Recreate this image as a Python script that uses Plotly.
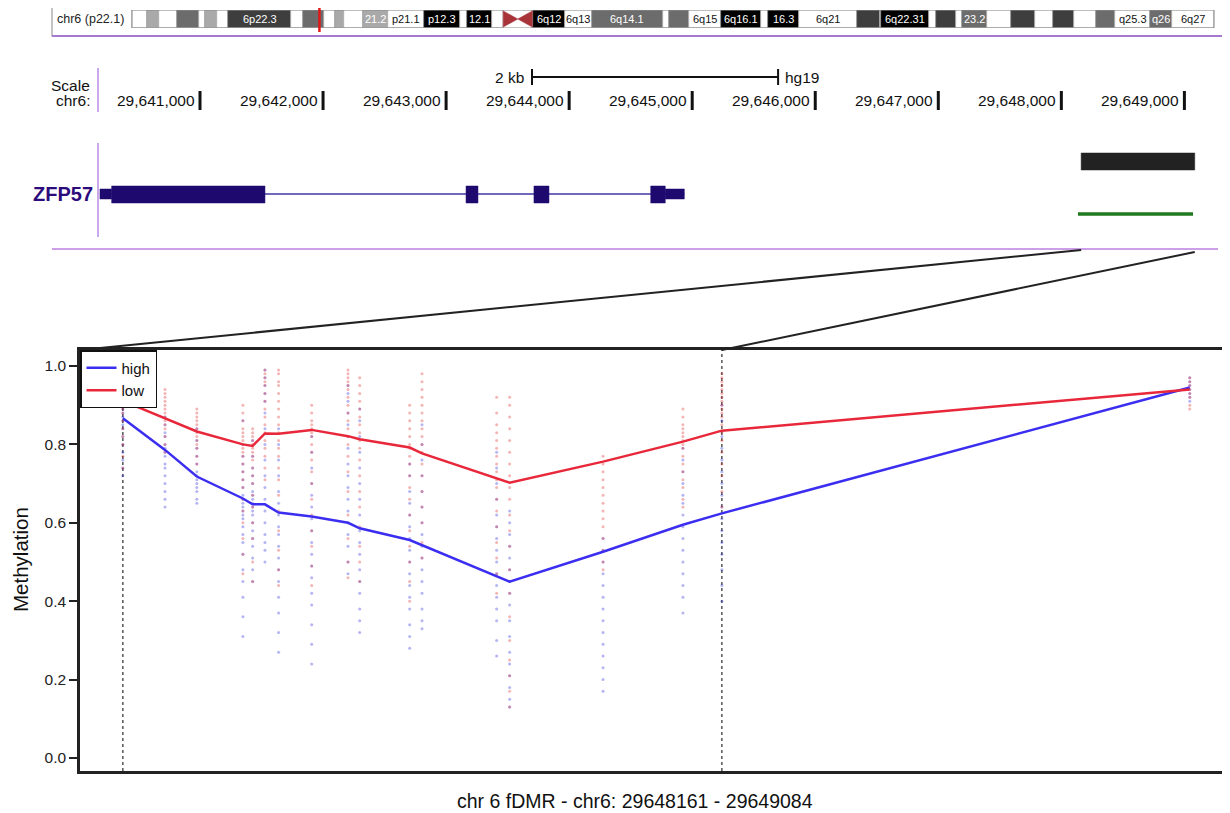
import plotly.graph_objects as go

# page body has an 8px margin: the figure occupies pixels 8..1230 x 8..813
OFF = 8
W, H = 1230 - OFF, 813 - OFF

# ---------------- data ----------------
# chr6 ideogram bands (Mb)
band_start = [0, 2.3, 4.2, 7.1, 10.6, 11.6, 13.4, 15.2, 25.2, 27.0, 30.4, 32.1, 33.5, 36.6, 40.5,
              46.2, 51.8, 53.0, 57.0, 58.7, 61.0, 63.3, 63.4, 68.5, 72.7, 83.9, 84.9, 88.0, 93.1,
              99.5, 100.6, 105.5, 114.6, 118.3, 118.5, 126.1, 127.1, 130.3, 131.2, 135.2, 139.0,
              142.8, 145.6, 149.0, 152.5, 155.5, 161.0, 164.5]
band_end = [2.3, 4.2, 7.1, 10.6, 11.6, 13.4, 15.2, 25.2, 27.0, 30.4, 32.1, 33.5, 36.6, 40.5, 46.2,
            51.8, 53.0, 57.0, 58.7, 61.0, 63.3, 63.4, 68.5, 72.7, 83.9, 84.9, 88.0, 93.1, 99.5,
            100.6, 105.5, 114.6, 118.3, 118.5, 126.1, 127.1, 130.3, 131.2, 135.2, 139.0, 142.8,
            145.6, 149.0, 152.5, 155.5, 161.0, 164.5, 171.1]
band_stain = ["gneg", "gpos25", "gneg", "gpos50", "gneg", "gpos25", "gneg", "gpos75", "gneg", "gpos50",
              "gneg", "gpos25", "gneg", "gpos25", "gneg", "gpos100", "gneg", "gpos100", "gneg", "acen",
              "acen", "gneg", "gpos100", "gneg", "gpos50", "gneg", "gpos50", "gneg", "gpos100", "gneg",
              "gpos100", "gneg", "gpos75", "gneg", "gpos100", "gneg", "gpos75", "gneg", "gpos50", "gneg",
              "gpos75", "gneg", "gpos75", "gneg", "gpos50", "gneg", "gpos50", "gneg"]
band_label = ["", "", "", "", "", "", "", "6p22.3", "", "", "", "", "", "21.2", "p21.1",
              "p12.3", "", "12.1", "", "", "", "", "6q12", "6q13", "6q14.1", "", "", "6q15", "6q16.1",
              "", "16.3", "6q21", "", "", "6q22.31", "", "", "", "23.2", "", "", "", "", "", "",
              "q25.3", "q26", "6q27"]
chrom_len = 171.1
highlight_mb = 29.64

ruler_ticks = [29641000, 29642000, 29643000, 29644000, 29645000, 29646000, 29647000, 29648000, 29649000]
scale_bar = [29643698, 29645698]

gene_name = "ZFP57"
gene_span = [29640187, 29644936]
cds_start = [29640282, 29643162, 29643714, 29644663]
cds_end = [29641528, 29643259, 29643836, 29644781]
utr_start = [29640187, 29644781]
utr_end = [29640282, 29644936]

fdmr_start, fdmr_end = 29648161, 29649084
green_start, green_end = 29648135, 29649070

cpg_pos = [29648161, 29648226, 29648275, 29648346, 29648361, 29648380, 29648401, 29648452, 29648508,
           29648526, 29648603, 29648622, 29648737, 29648757, 29648901, 29649024, 29649084, 29649805]
high_mean = [0.867, 0.786, 0.718, 0.662, 0.647, 0.647, 0.626, 0.616, 0.600, 0.586, 0.556, 0.543,
             0.465, 0.450, 0.526, 0.595, 0.624, 0.945]
low_mean = [0.911, 0.867, 0.833, 0.800, 0.796, 0.828, 0.827, 0.837, 0.821, 0.813, 0.792, 0.777,
            0.712, 0.702, 0.756, 0.807, 0.835, 0.940]

high_samples = [
    [0.98, 0.96, 0.94, 0.92, 0.90, 0.89, 0.88, 0.87, 0.86, 0.85, 0.84, 0.82, 0.80, 0.78, 0.76, 0.74, 0.72],
    [0.87, 0.85, 0.83, 0.82, 0.80, 0.79, 0.78, 0.77, 0.75, 0.74, 0.72, 0.70, 0.68, 0.66, 0.64],
    [0.84, 0.81, 0.79, 0.77, 0.75, 0.73, 0.72, 0.71, 0.70, 0.69, 0.68, 0.66, 0.65],
    [0.86, 0.80, 0.77, 0.75, 0.73, 0.71, 0.69, 0.67, 0.66, 0.65, 0.64, 0.63, 0.62, 0.61, 0.59, 0.57, 0.55,
     0.52, 0.48, 0.45, 0.41, 0.36, 0.31],
    [0.81, 0.77, 0.74, 0.72, 0.70, 0.68, 0.67, 0.66, 0.65, 0.64, 0.63, 0.62, 0.60, 0.58, 0.56, 0.54, 0.51,
     0.48, 0.45],
    [0.99, 0.97, 0.95, 0.93, 0.91, 0.88, 0.84, 0.80, 0.76, 0.72, 0.69, 0.66, 0.63, 0.60, 0.57, 0.55, 0.53, 0.50],
    [0.84, 0.80, 0.76, 0.72, 0.68, 0.65, 0.62, 0.59, 0.57, 0.54, 0.51, 0.48, 0.45, 0.41, 0.37, 0.32, 0.27],
    [0.82, 0.78, 0.74, 0.70, 0.67, 0.64, 0.61, 0.58, 0.55, 0.52, 0.49, 0.46, 0.42, 0.39, 0.34, 0.29, 0.24],
    [0.95, 0.93, 0.91, 0.88, 0.85, 0.82, 0.79, 0.75, 0.72, 0.69, 0.66, 0.63, 0.60, 0.57, 0.54, 0.50, 0.47],
    [0.89, 0.86, 0.82, 0.78, 0.74, 0.70, 0.66, 0.62, 0.58, 0.55, 0.52, 0.48, 0.45, 0.42, 0.38, 0.35, 0.32],
    [0.75, 0.72, 0.68, 0.65, 0.62, 0.59, 0.56, 0.53, 0.50, 0.47, 0.44, 0.41, 0.38, 0.34, 0.31, 0.28],
    [0.85, 0.80, 0.76, 0.72, 0.68, 0.64, 0.60, 0.57, 0.54, 0.51, 0.48, 0.45, 0.42, 0.38, 0.35, 0.33],
    [0.78, 0.74, 0.70, 0.66, 0.62, 0.59, 0.56, 0.53, 0.50, 0.47, 0.44, 0.41, 0.38, 0.35, 0.30, 0.26],
    [0.63, 0.60, 0.57, 0.54, 0.51, 0.48, 0.45, 0.42, 0.39, 0.35, 0.31, 0.27, 0.24, 0.21, 0.18, 0.15, 0.13],
    [0.56, 0.53, 0.50, 0.47, 0.44, 0.41, 0.38, 0.35, 0.32, 0.29, 0.26, 0.23, 0.20, 0.17],
    [0.79, 0.76, 0.73, 0.70, 0.67, 0.65, 0.62, 0.59, 0.56, 0.53, 0.50, 0.47, 0.44, 0.41, 0.37],
    [0.90, 0.86, 0.82, 0.79, 0.76, 0.73, 0.70, 0.67, 0.64, 0.61, 0.58, 0.55, 0.52, 0.48, 0.44, 0.40],
    [0.97, 0.96, 0.95, 0.94, 0.93, 0.92, 0.91],
]
low_samples = [
    [1.00, 0.99, 0.97, 0.96, 0.95, 0.94, 0.93, 0.92, 0.91, 0.90, 0.89, 0.88, 0.86, 0.84, 0.82, 0.80, 0.77, 0.74],
    [0.94, 0.93, 0.92, 0.91, 0.90, 0.89, 0.88, 0.87, 0.86, 0.85, 0.84, 0.82, 0.80, 0.78],
    [0.89, 0.88, 0.87, 0.86, 0.85, 0.84, 0.83, 0.82, 0.81, 0.80, 0.79, 0.77, 0.75],
    [0.90, 0.88, 0.86, 0.84, 0.83, 0.82, 0.81, 0.80, 0.79, 0.78, 0.77, 0.75, 0.73, 0.71, 0.69, 0.66, 0.63,
     0.60, 0.56, 0.52, 0.47],
    [0.84, 0.83, 0.82, 0.81, 0.80, 0.79, 0.78, 0.77, 0.76, 0.74, 0.72, 0.70, 0.67, 0.64, 0.60, 0.56, 0.50, 0.45],
    [0.99, 0.98, 0.97, 0.96, 0.95, 0.93, 0.91, 0.89, 0.87, 0.85, 0.83, 0.81, 0.79, 0.77, 0.74, 0.71],
    [0.99, 0.98, 0.96, 0.95, 0.93, 0.91, 0.89, 0.87, 0.85, 0.83, 0.81, 0.79, 0.77, 0.74, 0.71, 0.67, 0.63,
     0.58, 0.53, 0.48, 0.44],
    [0.90, 0.88, 0.86, 0.85, 0.84, 0.83, 0.82, 0.80, 0.78, 0.76, 0.73, 0.70, 0.66, 0.62, 0.58, 0.54, 0.49, 0.44],
    [0.99, 0.98, 0.97, 0.96, 0.95, 0.94, 0.92, 0.90, 0.88, 0.86, 0.84, 0.82, 0.80, 0.77, 0.73, 0.68, 0.62,
     0.56, 0.50, 0.46],
    [0.97, 0.95, 0.93, 0.91, 0.89, 0.87, 0.85, 0.83, 0.81, 0.79, 0.76, 0.72, 0.68, 0.64, 0.59, 0.54, 0.50, 0.45],
    [0.90, 0.88, 0.86, 0.84, 0.82, 0.80, 0.79, 0.77, 0.75, 0.72, 0.69, 0.66, 0.62, 0.58, 0.54, 0.50, 0.45, 0.40],
    [0.98, 0.96, 0.94, 0.92, 0.90, 0.88, 0.86, 0.84, 0.82, 0.80, 0.78, 0.75, 0.72, 0.68, 0.64, 0.60, 0.55, 0.51],
    [0.92, 0.88, 0.85, 0.83, 0.81, 0.79, 0.77, 0.75, 0.73, 0.71, 0.69, 0.66, 0.63, 0.59, 0.55, 0.51, 0.47, 0.42],
    [0.92, 0.90, 0.87, 0.84, 0.81, 0.78, 0.75, 0.72, 0.69, 0.66, 0.62, 0.58, 0.54, 0.48, 0.42, 0.36, 0.30,
     0.25, 0.21, 0.17, 0.13],
    [0.77, 0.75, 0.73, 0.71, 0.69, 0.67, 0.65, 0.63, 0.61, 0.59, 0.56, 0.53, 0.50, 0.48],
    [0.89, 0.87, 0.85, 0.84, 0.83, 0.82, 0.81, 0.80, 0.79, 0.77, 0.75, 0.73, 0.71, 0.69, 0.66, 0.64],
    [0.98, 0.97, 0.96, 0.95, 0.94, 0.93, 0.92, 0.91, 0.90, 0.89, 0.88, 0.87, 0.85, 0.83, 0.81, 0.78, 0.75,
     0.72, 0.68, 0.64],
    [0.97, 0.96, 0.95, 0.94, 0.93, 0.92, 0.90, 0.89],
]

x_title = "chr 6 fDMR - chr6: 29648161 - 29649084"
y_title = "Methylation"

# ---------------- layout helpers ----------------
FONT = "Liberation Sans, Arial, sans-serif"
NARROW = "Liberation Sans Narrow, Liberation Sans, Arial, sans-serif"
BROWSER_FS = 15.5


def px(x):
    return (x - OFF) / W


def py(y):
    return 1 - (y - OFF) / H


# browser axis (x2): genomic coordinates spanning the full width
X2 = [29639439.7, 29649370.6]
# ideogram axis (x3): Mb
X3 = [-19.61, 173.63]
# lower plot axis (x)
X1 = [29648095, 29649867]
D1 = px(80)


def g2paper(g):
    return (g - X2[0]) / (X2[1] - X2[0])


def g1paper(g):
    return D1 + (g - X1[0]) / (X1[1] - X1[0]) * (1 - D1)


fig = go.Figure()

# ---------------- lower plot ----------------
dot_x_high, dot_y_high, dot_x_low, dot_y_low = [], [], [], []
for pos, hs, ls in zip(cpg_pos, high_samples, low_samples):
    dot_x_high += [pos] * len(hs)
    dot_y_high += hs
    dot_x_low += [pos] * len(ls)
    dot_y_low += ls

fig.add_trace(go.Scatter(x=dot_x_high, y=dot_y_high, mode="markers", showlegend=False,
                         marker=dict(size=3, color="#2a2ae0", opacity=0.35), hoverinfo="skip"))
fig.add_trace(go.Scatter(x=dot_x_low, y=dot_y_low, mode="markers", showlegend=False,
                         marker=dict(size=3, color="#e02a2a", opacity=0.35), hoverinfo="skip"))
fig.add_trace(go.Scatter(x=cpg_pos, y=high_mean, mode="lines", name="high",
                         line=dict(color="#3b2ef0", width=2.5)))
fig.add_trace(go.Scatter(x=cpg_pos, y=low_mean, mode="lines", name="low",
                         line=dict(color="#e8283a", width=2.5)))

# helper trace to create the browser axis
fig.add_trace(go.Scatter(x=gene_span, y=[0.5, 0.5], xaxis="x2", yaxis="y2", mode="markers",
                         marker=dict(opacity=0), showlegend=False, hoverinfo="skip"))

# ideogram bands as a horizontal bar trace
stain_color = {"gneg": "#ffffff", "gpos25": "#a9a9a9", "gpos50": "#6c6c6c",
               "gpos75": "#3e3e3e", "gpos100": "#000000"}
nb_idx = [i for i, s in enumerate(band_stain) if s != "acen"]
fig.add_trace(go.Bar(
    x=[band_end[i] - band_start[i] for i in nb_idx], base=[band_start[i] for i in nb_idx],
    y=[0] * len(nb_idx), orientation="h", width=1, xaxis="x3", yaxis="y3",
    marker=dict(color=[stain_color[band_stain[i]] for i in nb_idx], line=dict(color="#9a9a9a", width=0.6)),
    showlegend=False, hoverinfo="skip"))

shapes = []
annotations = []

# outer ideogram frame
shapes.append(dict(type="rect", xref="paper", yref="paper", x0=px(52), x1=px(1227), y0=py(36), y1=py(2),
                   line=dict(color="#9c9c9c", width=1.2), fillcolor="rgba(0,0,0,0)", layer="below"))
shapes.append(dict(type="line", xref="paper", yref="paper", x0=px(52), x1=px(1227), y0=py(36), y1=py(36),
                   line=dict(color="#a678cf", width=2)))
annotations.append(dict(xref="paper", yref="paper", x=px(55), y=py(19), text="chr6 (p22.1)", showarrow=False,
                        xanchor="left", yanchor="middle", font=dict(family=NARROW, size=12.5, color="#222")))
# ideogram outline
shapes.append(dict(type="rect", xref="x3", yref="y3", x0=0, x1=chrom_len, y0=-0.5, y1=0.5,
                   line=dict(color="#8a8a8a", width=1), fillcolor="rgba(0,0,0,0)"))
# centromere
acen_idx = [i for i, s in enumerate(band_stain) if s == "acen"]
s0, e0 = band_start[acen_idx[0]], band_end[acen_idx[0]]
s1, e1 = band_start[acen_idx[1]], band_end[acen_idx[1]]
shapes.append(dict(type="path", xref="x3", yref="y3", path=f"M {s0},-0.45 L {s0},0.45 L {e0},0 Z",
                   fillcolor="#a8343a", line=dict(color="#a8343a", width=0.5)))
shapes.append(dict(type="path", xref="x3", yref="y3", path=f"M {s1},0 L {e1},0.45 L {e1},-0.45 Z",
                   fillcolor="#a8343a", line=dict(color="#a8343a", width=0.5)))
for i in range(len(band_start)):
    if band_label[i]:
        col = "#111111" if band_stain[i] == "gneg" else "#ffffff"
        annotations.append(dict(xref="x3", yref="y3", x=(band_start[i] + band_end[i]) / 2, y=0,
                                text=band_label[i], showarrow=False, xanchor="center", yanchor="middle",
                                font=dict(family=NARROW, size=11, color=col)))
# highlighted position
shapes.append(dict(type="line", xref="x3", yref="paper", x0=highlight_mb, x1=highlight_mb,
                   y0=py(32), y1=py(6), line=dict(color="#e01818", width=2.5)))

# ---------------- ruler ----------------
shapes.append(dict(type="line", xref="paper", yref="paper", x0=px(98), x1=px(98), y0=py(112), y1=py(68),
                   line=dict(color="#c9a8ec", width=2)))
annotations.append(dict(xref="paper", yref="paper", x=px(92), y=py(85), text="Scale", showarrow=False,
                        xanchor="right", yanchor="middle", font=dict(family=FONT, size=BROWSER_FS, color="#111")))
annotations.append(dict(xref="paper", yref="paper", x=px(92), y=py(101), text="chr6:", showarrow=False,
                        xanchor="right", yanchor="middle", font=dict(family=FONT, size=BROWSER_FS, color="#111")))
for t in ruler_ticks:
    shapes.append(dict(type="line", xref="x2", yref="paper", x0=t, x1=t, y0=py(110), y1=py(91),
                       line=dict(color="#111", width=3)))
    annotations.append(dict(xref="x2", yref="paper", x=t, y=py(101), text=f"{t:,}", showarrow=False,
                            xanchor="right", yanchor="middle", xshift=-3,
                            font=dict(family=FONT, size=BROWSER_FS, color="#111")))
shapes.append(dict(type="line", xref="x2", yref="paper", x0=scale_bar[0], x1=scale_bar[1], y0=py(77), y1=py(77),
                   line=dict(color="#111", width=2)))
for b in scale_bar:
    shapes.append(dict(type="line", xref="x2", yref="paper", x0=b, x1=b, y0=py(85), y1=py(69),
                       line=dict(color="#111", width=2)))
annotations.append(dict(xref="x2", yref="paper", x=scale_bar[0], y=py(77),
                        text=f"{(scale_bar[1] - scale_bar[0]) // 1000} kb", showarrow=False,
                        xanchor="right", yanchor="middle", xshift=-6,
                        font=dict(family=FONT, size=BROWSER_FS, color="#111")))
annotations.append(dict(xref="x2", yref="paper", x=scale_bar[1], y=py(77), text="hg19", showarrow=False,
                        xanchor="left", yanchor="middle", xshift=5,
                        font=dict(family=FONT, size=BROWSER_FS, color="#111")))

# ---------------- gene track ----------------
shapes.append(dict(type="line", xref="paper", yref="paper", x0=px(98), x1=px(98), y0=py(237), y1=py(143),
                   line=dict(color="#c9a8ec", width=2)))
annotations.append(dict(xref="paper", yref="paper", x=px(95), y=py(194), text=f"<b>{gene_name}</b>",
                        showarrow=False, xanchor="right", yanchor="middle",
                        font=dict(family=FONT, size=20, color="#2c0c7c")))
GENE = "#1e0a6e"
shapes.append(dict(type="line", xref="x2", yref="paper", x0=gene_span[0], x1=gene_span[1], y0=py(194), y1=py(194),
                   line=dict(color="#7068bc", width=2)))
for s, e in zip(utr_start, utr_end):
    shapes.append(dict(type="rect", xref="x2", yref="paper", x0=s, x1=e, y0=py(199), y1=py(189),
                       fillcolor=GENE, line=dict(color=GENE, width=0.5)))
for s, e in zip(cds_start, cds_end):
    shapes.append(dict(type="rect", xref="x2", yref="paper", x0=s, x1=e, y0=py(203), y1=py(186),
                       fillcolor=GENE, line=dict(color=GENE, width=0.5)))
# fDMR tracks
shapes.append(dict(type="rect", xref="x2", yref="paper", x0=fdmr_start, x1=fdmr_end, y0=py(170), y1=py(153),
                   fillcolor="#222222", line=dict(color="#222222", width=0.5)))
shapes.append(dict(type="line", xref="x2", yref="paper", x0=green_start, x1=green_end, y0=py(214), y1=py(214),
                   line=dict(color="#1f7a1f", width=3.5)))
shapes.append(dict(type="line", xref="paper", yref="paper", x0=px(52), x1=px(1218), y0=py(249), y1=py(249),
                   line=dict(color="#cc9fe8", width=2)))

# zoom connectors
shapes.append(dict(type="line", xref="paper", yref="paper", x0=g2paper(fdmr_start), y0=py(250),
                   x1=D1, y1=py(350), line=dict(color="#222", width=2)))
shapes.append(dict(type="line", xref="paper", yref="paper", x0=g2paper(fdmr_end), y0=py(252),
                   x1=g1paper(fdmr_end), y1=py(350), line=dict(color="#222", width=2)))

# fDMR boundaries in lower plot
for b in (fdmr_start, fdmr_end):
    shapes.append(dict(type="line", xref="x", yref="y domain", x0=b, x1=b, y0=0, y1=1,
                       line=dict(color="#555", width=1.5, dash="dot"), layer="below"))

annotations.append(dict(xref="paper", yref="paper", x=px(635), y=py(801), text=x_title,
                        showarrow=False, xanchor="center", yanchor="middle",
                        font=dict(family=FONT, size=19.5, color="#111")))
annotations.append(dict(xref="paper", yref="paper", x=px(20), y=py(560), text=y_title, textangle=-90,
                        showarrow=False, xanchor="center", yanchor="middle",
                        font=dict(family=FONT, size=20.5, color="#111")))

fig.update_layout(
    width=W, height=H, margin=dict(l=0, r=0, t=0, b=0),
    paper_bgcolor="white", plot_bgcolor="white",
    font=dict(family=FONT, color="#111"),
    xaxis=dict(domain=[D1, 1], range=X1, showticklabels=False, ticks="", showgrid=False, zeroline=False,
               showline=True, linecolor="#222", linewidth=2.5, mirror=True),
    yaxis=dict(domain=[py(771), py(350)], range=[-0.0332, 1.0408], tickvals=[0, 0.2, 0.4, 0.6, 0.8, 1.0],
               tickformat=".1f", ticks="outside", ticklen=8, tickwidth=2, tickcolor="#222",
               showgrid=False, zeroline=False, showline=True, linecolor="#222", linewidth=2.5,
               tickfont=dict(size=15.5, color="#222")),
    xaxis2=dict(domain=[0, 1], range=X2, anchor="y2", visible=False),
    yaxis2=dict(domain=[py(245), py(45)], range=[0, 1], anchor="x2", visible=False),
    xaxis3=dict(domain=[0, 1], range=X3, anchor="y3", visible=False),
    yaxis3=dict(domain=[py(28), py(10)], range=[-0.5, 0.5], anchor="x3", visible=False),
    showlegend=True,
    legend=dict(x=D1, y=py(350), xanchor="left", yanchor="top", bgcolor="white", bordercolor="#111",
                borderwidth=1.5, font=dict(size=15, color="#111"), tracegroupgap=0),
    shapes=shapes, annotations=annotations, bargap=0,
)

fig.write_html("out.html")
